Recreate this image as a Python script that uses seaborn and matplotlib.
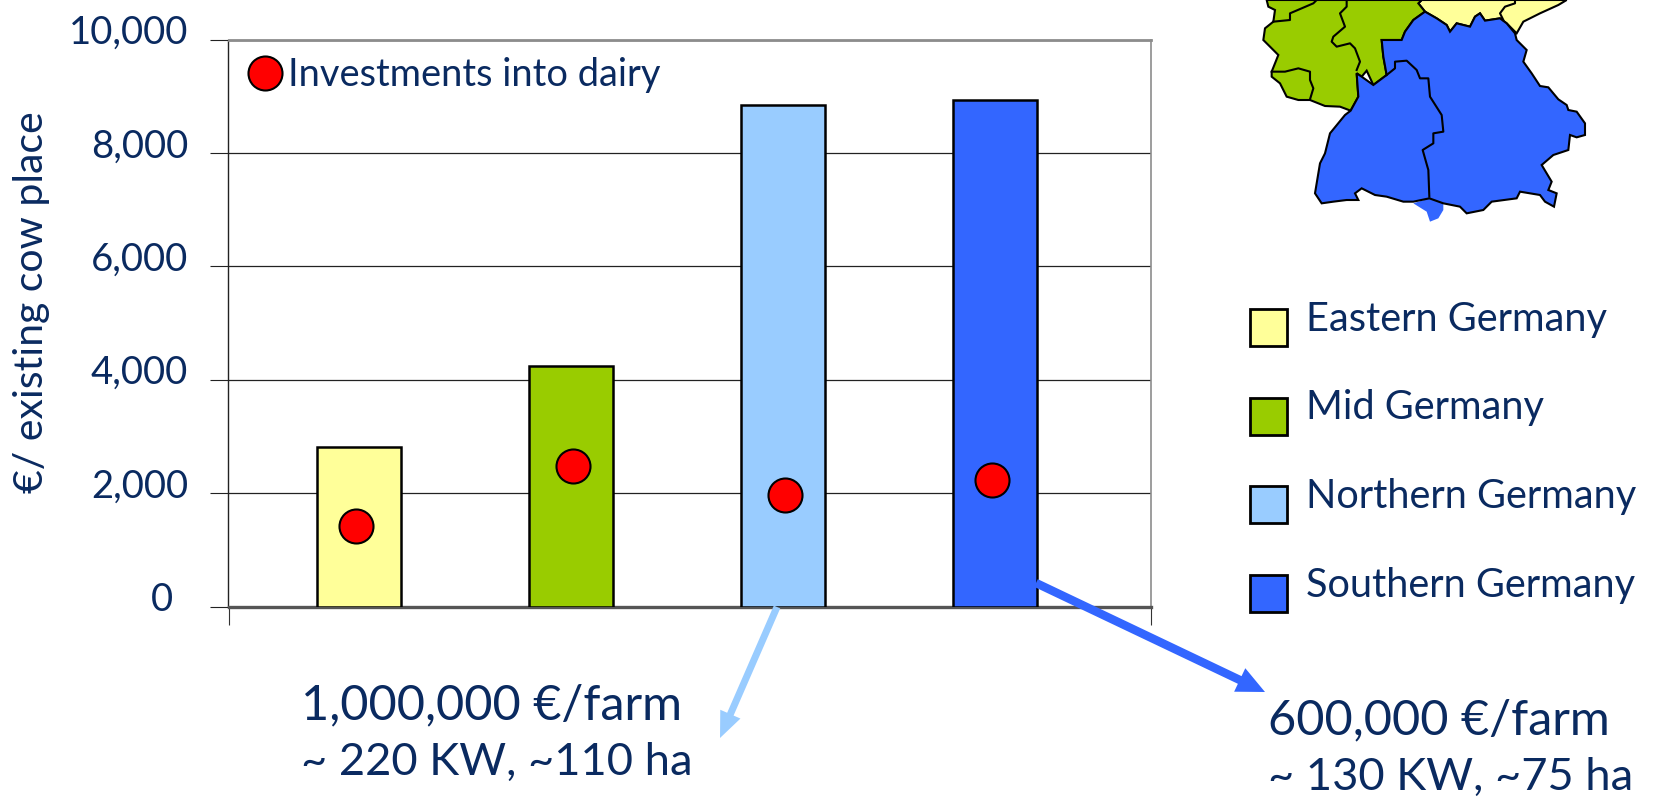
import matplotlib
matplotlib.use("Agg")
import matplotlib.pyplot as plt
from matplotlib.patches import FancyArrowPatch, Polygon, Rectangle
from matplotlib.transforms import ScaledTranslation
import pandas as pd
import seaborn as sns

regions = ["Eastern Germany", "Mid Germany", "Northern Germany", "Southern Germany"]
machinery_invest = [2810, 4235, 8850, 8940]
dairy_invest = [1420, 2485, 1960, 2225]
colors = ["#FFFF99", "#99CC00", "#99CCFF", "#3366FF"]
y_ticks = [0, 2000, 4000, 6000, 8000, 10000]
ylabel = "€/ existing cow place"
marker_label = "Investments into dairy"
callouts = [("1,000,000 €/farm", "~ 220 KW, ~110 ha"), ("600,000 €/farm", "~ 130 KW, ~75 ha")]

NAVY = "#0A2A60"
W, H = 1656, 797
plt.rcParams["font.family"] = ["Lato", "DejaVu Sans"]

fig = plt.figure(figsize=(W / 100, H / 100), dpi=100)
ax = fig.add_axes([228.5 / W, 1 - 606.5 / H, (1151 - 228.5) / W, (606.5 - 39.5) / H])

df = pd.DataFrame({"region": regions, "value": machinery_invest, "dairy": dairy_invest})
# the red markers sit slightly off the bar centres
df["dot_pos"] = [i + nudge for i, nudge in enumerate([-0.018, 0.01, 0.01, -0.014])]

sns.barplot(data=df, x="region", y="value", hue="region", palette=colors, legend=False,
            width=0.396, edgecolor="black", linewidth=1.8, saturation=1, ax=ax, zorder=3)
sns.scatterplot(data=df, x="dot_pos", y="dairy", color="#FF0000", edgecolor="black",
                linewidth=1.5, s=600, ax=ax, zorder=4, legend=False)

x_lo, x_hi = -0.618, 3.736
ax.set_xlim(x_lo, x_hi)
ax.set_ylim(0, 10000)
ax.set_xticks([x_lo, x_hi], ["", ""])
ax.tick_params(axis="x", length=13, width=0.8, color="#333333")
ax.set_yticks(y_ticks, [f"{v:,}" for v in y_ticks])
ax.tick_params(axis="y", length=13, width=0.8, color="#222222", labelsize=27.5, labelcolor=NAVY, pad=16)
for value, label in zip(y_ticks, ax.get_yticklabels()):
    shift_x = -15 if value == 0 else 0
    label.set_transform(label.get_transform() + ScaledTranslation(shift_x / 100, 10 / 100, fig.dpi_scale_trans))
ax.set_xlabel("")
ax.set_ylabel("")
ax.grid(axis="y", color="#222222", lw=0.9, zorder=1)
ax.set_axisbelow(True)
ax.spines["top"].set(color="#8C8C8C", lw=2)
ax.spines["right"].set(color="#8C8C8C", lw=1.2)
ax.spines["left"].set(color="#222222", lw=1)
ax.spines["bottom"].set(color="#555555", lw=2.4)

# overlay in pixel coordinates for map, legend, arrows and notes
ov = fig.add_axes([0, 0, 1, 1], zorder=10)
ov.set_xlim(0, W)
ov.set_ylim(H, 0)
ov.axis("off")
ov.patch.set_alpha(0)

fig.text(32 / W, 1 - 302 / H, ylabel, rotation=90, va="center", ha="center", fontsize=29.5, color=NAVY)

ov.scatter([265], [73], s=600, color="#FF0000", edgecolor="black", linewidth=1.5, clip_on=False)
ov.text(288, 75, marker_label, fontsize=27.4, color=NAVY, va="center")

for i, (name, c) in enumerate(zip(regions, colors)):
    top = 309 + i * 88.7
    ov.add_patch(Rectangle((1250.5, top), 36.5, 37, fc=c, ec="black", lw=2))
    ov.text(1306, top + 10, name, fontsize=28.6, color=NAVY, va="center")

arrow_specs = [((777, 607), (720, 738), "#99CCFF", "simple,head_length=2.6,head_width=2.2,tail_width=0.7"),
               ((1036, 583), (1265, 692), "#3366FF", "simple,head_length=2.8,head_width=2.6,tail_width=0.85")]
for start, tip, c, style in arrow_specs:
    ov.add_patch(FancyArrowPatch(start, tip, arrowstyle=style, mutation_scale=7.2, fc=c, ec="none",
                                 lw=0, shrinkA=0, shrinkB=0))

for (x, y, lines) in [(301, 705, callouts[0]), (1268, 720, callouts[1])]:
    ov.text(x, y, lines[0], fontsize=35, color=NAVY, va="center")
    ov.text(x, y + 57, lines[1], fontsize=32.6, color=NAVY, va="center")


def to_px(points):
    return [(1230 + x / 3, y / 3) for x, y in points]


south = [(585, 35), (620, 55), (650, 75), (660, 95), (680, 70), (720, 80), (735, 50), (750, 40), (765, 62),
         (810, 55), (830, 70), (855, 100), (860, 120), (890, 150), (880, 185), (905, 220), (930, 258), (955, 262),
         (985, 298), (1010, 315), (1015, 330), (1040, 335), (1065, 370), (1065, 405), (1040, 412), (1020, 405),
         (1015, 450), (970, 465), (935, 495), (965, 545), (955, 570), (980, 580), (972, 620), (945, 605), (930, 585),
         (870, 575), (860, 595), (785, 605), (760, 630), (710, 640), (690, 620), (640, 610), (598, 595), (550, 605),
         (520, 605), (470, 590), (435, 585), (415, 575), (395, 565), (375, 580), (385, 600), (350, 600),
         (310, 605), (275, 610), (255, 580), (265, 520), (270, 490), (285, 460), (300, 400), (345, 345), (362, 332),
         (385, 290), (380, 220), (395, 230), (430, 255), (470, 225), (460, 170), (455, 120), (515, 120), (525, 95),
         (550, 60)]
alps = [(640, 610), (640, 630), (625, 655), (600, 665), (590, 635), (550, 610), (598, 595)]
mid = [(110, 0), (115, 20), (135, 30), (130, 65), (105, 85), (100, 120), (145, 165), (125, 215), (125, 230),
       (150, 250), (170, 290), (205, 300), (240, 300), (285, 318), (330, 320), (362, 332), (385, 290), (380, 220),
       (395, 230), (410, 212), (430, 255), (470, 225), (460, 170), (455, 120), (515, 120), (525, 95), (550, 60),
       (585, 35), (565, 10), (575, 0)]
east = [(575, 0), (565, 10), (585, 35), (620, 55), (650, 75), (660, 95), (680, 70), (720, 80), (735, 50), (750, 40),
        (765, 62), (810, 55), (830, 70), (860, 100), (880, 65), (930, 40), (985, 15), (1010, 0)]
state_lines = [
    [(470, 225), (495, 205), (495, 185), (530, 182), (560, 210), (570, 235), (595, 235), (600, 290), (635, 345),
     (640, 395), (610, 400), (610, 430), (578, 450), (595, 510), (598, 590)],
    [(130, 65), (180, 60), (180, 40), (250, 10), (260, 0)],
    [(350, 0), (350, 20), (330, 40), (345, 80), (310, 110), (305, 125), (320, 140), (360, 130), (375, 145),
     (390, 185), (380, 210)],
    [(125, 215), (165, 215), (205, 205), (240, 215), (240, 240), (250, 265), (240, 298)],
    [(855, 0), (855, 10), (825, 20), (810, 40), (820, 60)],
]
ov.add_patch(Polygon(to_px(alps), closed=True, fc="#3366FF", ec="none"))
for pts, c in [(east, "#FFFF99"), (mid, "#99CC00"), (south, "#3366FF")]:
    ov.add_patch(Polygon(to_px(pts), closed=True, fc=c, ec="black", lw=1.5))
for line in state_lines:
    xs, ys = zip(*to_px(line))
    ov.plot(xs, ys, color="black", lw=1.5)
ov.set_xlim(0, W)
ov.set_ylim(H, 0)

fig.savefig("out.png", dpi=100)
